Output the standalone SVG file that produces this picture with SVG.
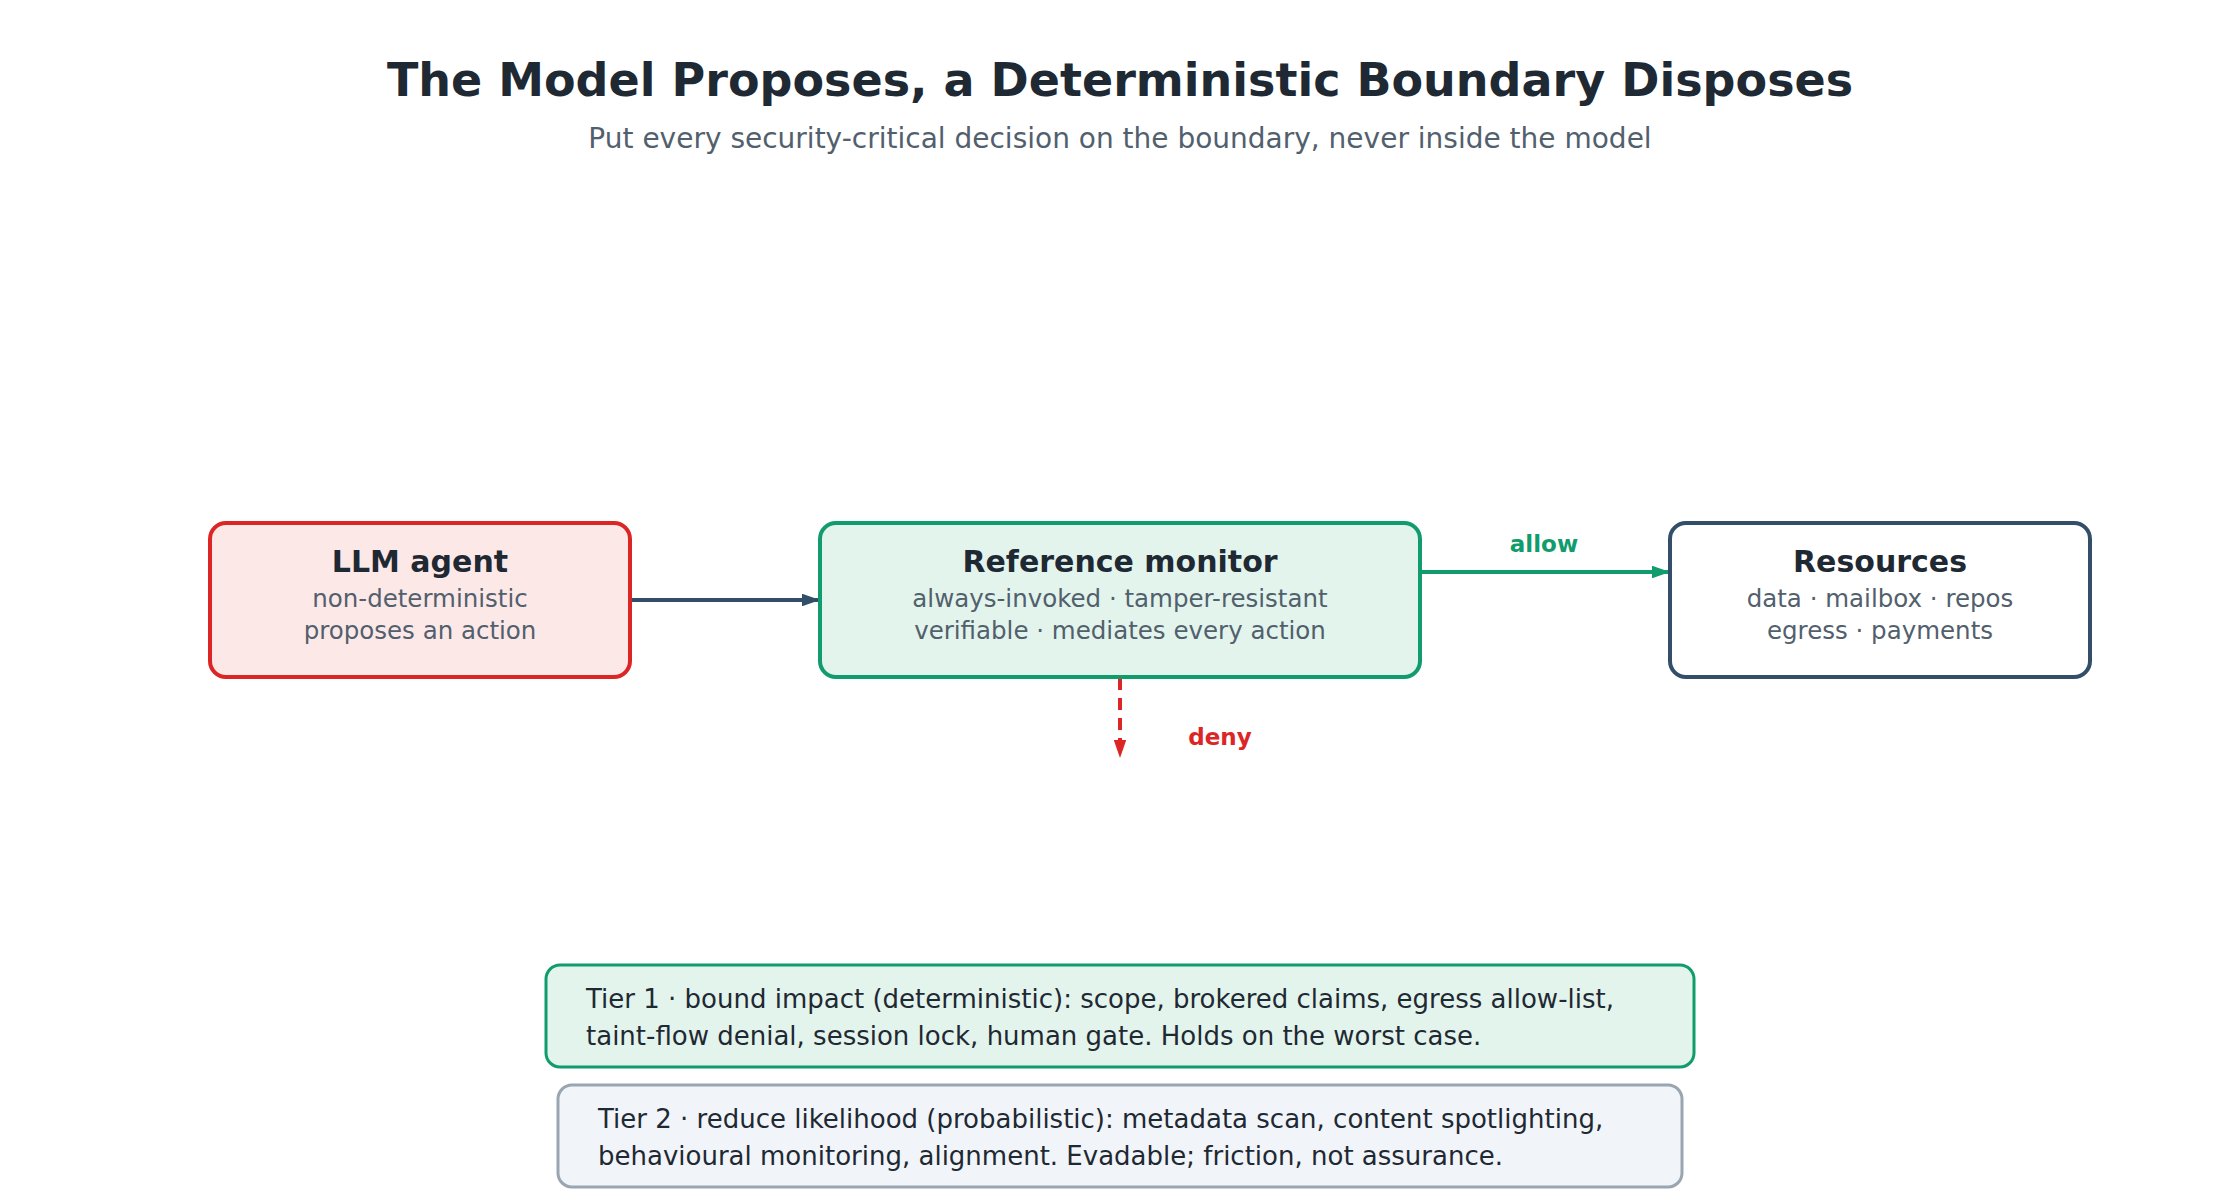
<svg xmlns="http://www.w3.org/2000/svg" width="2240" height="1200" viewBox="0 0 2240 1200">
<style>
text{font-family:"DejaVu Sans","Liberation Sans",sans-serif}
.title{font-size:46px;font-weight:bold;fill:#1f2933}
.sub{font-size:28px;fill:#52606d}
.nt{font-size:30px;font-weight:bold;fill:#1f2933}
.ns{font-size:24.5px;fill:#52606d}
.tier{font-size:26px;fill:#1f2933}
.lbl{font-size:23px;font-weight:bold}
</style>
<defs>
<marker id="aNavy" viewBox="0 0 10 7" refX="10" refY="3.5" markerWidth="4.5" markerHeight="3.15" orient="auto"><path d="M0,0L10,3.5L0,7z" fill="#334e68"/></marker>
<marker id="aGreen" viewBox="0 0 10 7" refX="10" refY="3.5" markerWidth="4.5" markerHeight="3.15" orient="auto"><path d="M0,0L10,3.5L0,7z" fill="#109c6c"/></marker>
<marker id="aRed" viewBox="0 0 10 7" refX="10" refY="3.5" markerWidth="4.5" markerHeight="3.15" orient="auto"><path d="M0,0L10,3.5L0,7z" fill="#dc2626"/></marker>
</defs>
<rect width="2240" height="1200" fill="#ffffff"/>
<text class="title" x="1120" y="96" text-anchor="middle">The Model Proposes, a Deterministic Boundary Disposes</text>
<text class="sub" x="1120" y="148" text-anchor="middle">Put every security-critical decision on the boundary, never inside the model</text>
<g id="connectors">
<line x1="630" y1="600" x2="820" y2="600" stroke="#334e68" stroke-width="4" marker-end="url(#aNavy)"/>
<line x1="1420" y1="572" x2="1670" y2="572" stroke="#109c6c" stroke-width="4" marker-end="url(#aGreen)"/>
<text class="lbl" x="1544" y="552" text-anchor="middle" fill="#109c6c">allow</text>
<line x1="1120" y1="678" x2="1120" y2="758" stroke="#dc2626" stroke-width="4" stroke-dasharray="12 8" marker-end="url(#aRed)"/>
<text class="lbl" x="1220" y="745" text-anchor="middle" fill="#dc2626">deny</text>
</g>
<g id="llm">
<rect x="210" y="523" width="420" height="154" rx="16" fill="#fde8e8" stroke="#dc2626" stroke-width="4"/>
<text class="nt" x="420" y="572" text-anchor="middle">LLM agent</text>
<text class="ns" x="420" y="607" text-anchor="middle">non-deterministic</text>
<text class="ns" x="420" y="639" text-anchor="middle">proposes an action</text>
</g>
<g id="monitor">
<rect x="820" y="523" width="600" height="154" rx="16" fill="#e3f4ec" stroke="#109c6c" stroke-width="4"/>
<text class="nt" x="1120" y="572" text-anchor="middle">Reference monitor</text>
<text class="ns" x="1120" y="607" text-anchor="middle">always-invoked · tamper-resistant</text>
<text class="ns" x="1120" y="639" text-anchor="middle">verifiable · mediates every action</text>
</g>
<g id="resources">
<rect x="1670" y="523" width="420" height="154" rx="16" fill="#ffffff" stroke="#334e68" stroke-width="4"/>
<text class="nt" x="1880" y="572" text-anchor="middle">Resources</text>
<text class="ns" x="1880" y="607" text-anchor="middle">data · mailbox · repos</text>
<text class="ns" x="1880" y="639" text-anchor="middle">egress · payments</text>
</g>
<g id="tier1">
<rect x="546" y="965" width="1148" height="102" rx="14" fill="#e3f4ec" stroke="#109c6c" stroke-width="3"/>
<text class="tier" x="586" y="1008">Tier 1 · bound impact (deterministic): scope, brokered claims, egress allow-list,</text>
<text class="tier" x="586" y="1045">taint-flow denial, session lock, human gate. Holds on the worst case.</text>
</g>
<g id="tier2">
<rect x="558" y="1085" width="1124" height="102" rx="14" fill="#f1f5f9" stroke="#9aa5b1" stroke-width="3"/>
<text class="tier" x="598" y="1128">Tier 2 · reduce likelihood (probabilistic): metadata scan, content spotlighting,</text>
<text class="tier" x="598" y="1165">behavioural monitoring, alignment. Evadable; friction, not assurance.</text>
</g>
</svg>
